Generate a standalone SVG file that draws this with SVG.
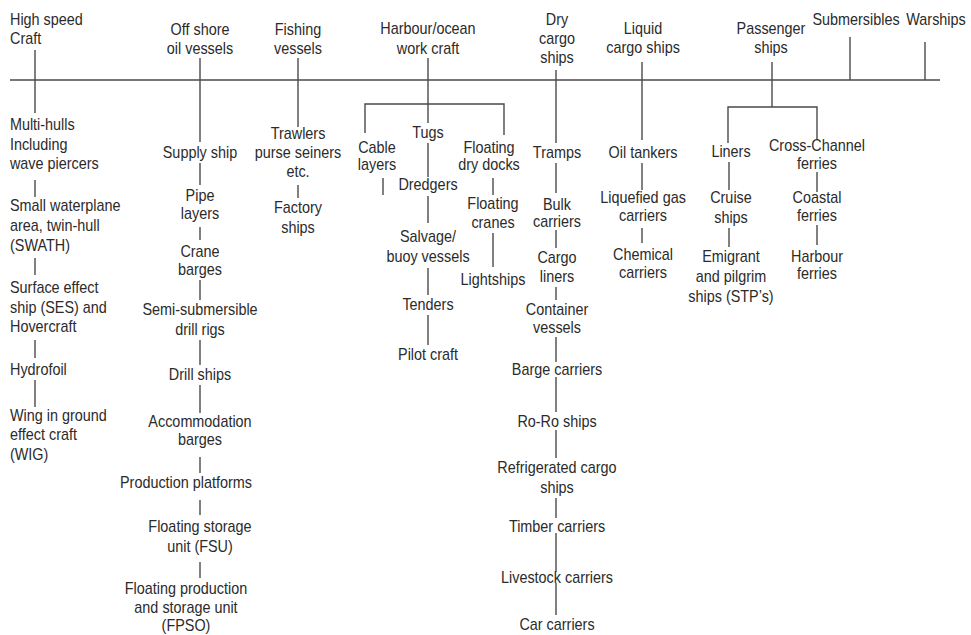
<svg xmlns="http://www.w3.org/2000/svg" width="971" height="635" viewBox="0 0 971 635">
<style>
text{font-family:"Liberation Sans",Arial,sans-serif;font-size:16px;fill:#2b2b2b;transform-box:fill-box;transform:scaleX(.9)}
.c{text-anchor:middle;transform-origin:center}
.l{text-anchor:start;transform-origin:left center}
#connectors line,#connectors path{stroke:#4a4a4a;stroke-width:1.4;fill:none}
</style>
<rect width="971" height="635" fill="#fff"/>
<g id="connectors">
<line x1="10" y1="80" x2="940" y2="80"/>
<line x1="35" y1="50" x2="35" y2="113"/>
<line x1="35" y1="180" x2="35" y2="197"/>
<line x1="35" y1="258" x2="35" y2="275"/>
<line x1="35" y1="340" x2="35" y2="358"/>
<line x1="35" y1="380" x2="35" y2="407"/>
<line x1="200" y1="58" x2="200" y2="142"/>
<line x1="200" y1="163" x2="200" y2="185"/>
<line x1="200" y1="227" x2="200" y2="240"/>
<line x1="200" y1="280" x2="200" y2="300"/>
<line x1="200" y1="340" x2="200" y2="365"/>
<line x1="200" y1="385" x2="200" y2="413"/>
<line x1="200" y1="457" x2="200" y2="473"/>
<line x1="200" y1="500" x2="200" y2="515"/>
<line x1="200" y1="562" x2="200" y2="578"/>
<line x1="298" y1="58" x2="298" y2="127"/>
<line x1="298" y1="185" x2="298" y2="198"/>
<line x1="428" y1="58" x2="428" y2="123"/>
<path d="M365 133V104H504V135"/>
<line x1="428" y1="143" x2="428" y2="177"/>
<line x1="428" y1="196" x2="428" y2="223"/>
<line x1="428" y1="268" x2="428" y2="295"/>
<line x1="428" y1="315" x2="428" y2="345"/>
<line x1="383" y1="178" x2="383" y2="195"/>
<line x1="493" y1="178" x2="493" y2="195"/>
<line x1="493" y1="233" x2="493" y2="267"/>
<line x1="556" y1="70" x2="556" y2="143"/>
<line x1="556" y1="163" x2="556" y2="193"/>
<line x1="556" y1="230" x2="556" y2="248"/>
<line x1="556" y1="287" x2="556" y2="300"/>
<line x1="556" y1="337" x2="556" y2="362"/>
<line x1="556" y1="377" x2="556" y2="412"/>
<line x1="556" y1="430" x2="556" y2="458"/>
<line x1="556" y1="498" x2="556" y2="518"/>
<line x1="556" y1="533" x2="556" y2="572"/>
<line x1="556" y1="583" x2="556" y2="615"/>
<line x1="642" y1="62" x2="642" y2="140"/>
<line x1="642" y1="163" x2="642" y2="190"/>
<line x1="642" y1="228" x2="642" y2="243"/>
<line x1="772" y1="62" x2="772" y2="107"/>
<path d="M728 143V107H817V140"/>
<line x1="729" y1="162" x2="729" y2="190"/>
<line x1="729" y1="228" x2="729" y2="247"/>
<line x1="817" y1="172" x2="817" y2="192"/>
<line x1="817" y1="225" x2="817" y2="245"/>
<line x1="850" y1="37" x2="850" y2="80"/>
<line x1="925" y1="42" x2="925" y2="80"/>
</g>
<g id="high-speed-craft"><text class="l" x="10" y="25"><tspan x="10" y="25">High speed</tspan><tspan x="10" y="44">Craft</tspan></text></g>
<g id="offshore"><text class="c" x="200" y="35"><tspan x="200" y="35">Off shore</tspan><tspan x="200" y="54">oil vessels</tspan></text></g>
<g id="fishing"><text class="c" x="298" y="35"><tspan x="298" y="35">Fishing</tspan><tspan x="298" y="54">vessels</tspan></text></g>
<g id="harbour"><text class="c" x="428" y="34"><tspan x="428" y="34">Harbour/ocean</tspan><tspan x="428" y="54">work craft</tspan></text></g>
<g id="dry-cargo"><text class="c" x="557" y="25"><tspan x="557" y="25">Dry</tspan><tspan x="557" y="44">cargo</tspan><tspan x="557" y="63">ships</tspan></text></g>
<g id="liquid-cargo"><text class="c" x="643" y="34"><tspan x="643" y="34">Liquid</tspan><tspan x="643" y="53">cargo ships</tspan></text></g>
<g id="passenger"><text class="c" x="771" y="34"><tspan x="771" y="34">Passenger</tspan><tspan x="771" y="53">ships</tspan></text></g>
<g id="submersibles"><text class="c" x="856" y="25">Submersibles</text></g>
<g id="warships"><text class="c" x="936" y="25">Warships</text></g>

<g id="multi-hulls"><text class="l" x="10" y="130"><tspan x="10" y="130">Multi-hulls</tspan><tspan x="10" y="150">Including</tspan><tspan x="10" y="169">wave piercers</tspan></text></g>
<g id="swath"><text class="l" x="10" y="211"><tspan x="10" y="211">Small waterplane</tspan><tspan x="10" y="231">area, twin-hull</tspan><tspan x="10" y="251">(SWATH)</tspan></text></g>
<g id="ses"><text class="l" x="10" y="293"><tspan x="10" y="293">Surface effect</tspan><tspan x="10" y="313">ship (SES) and</tspan><tspan x="10" y="332">Hovercraft</tspan></text></g>
<g id="hydrofoil"><text class="l" x="10" y="375">Hydrofoil</text></g>
<g id="wig"><text class="l" x="10" y="421"><tspan x="10" y="421">Wing in ground</tspan><tspan x="10" y="440">effect craft</tspan><tspan x="10" y="460">(WIG)</tspan></text></g>

<g id="supply-ship"><text class="c" x="200" y="158">Supply ship</text></g>
<g id="pipe-layers"><text class="c" x="200" y="201"><tspan x="200" y="201">Pipe</tspan><tspan x="200" y="219">layers</tspan></text></g>
<g id="crane-barges"><text class="c" x="200" y="257"><tspan x="200" y="257">Crane</tspan><tspan x="200" y="275">barges</tspan></text></g>
<g id="semi-sub"><text class="c" x="200" y="315"><tspan x="200" y="315">Semi-submersible</tspan><tspan x="200" y="335">drill rigs</tspan></text></g>
<g id="drill-ships"><text class="c" x="200" y="380">Drill ships</text></g>
<g id="accommodation"><text class="c" x="200" y="427"><tspan x="200" y="427">Accommodation</tspan><tspan x="200" y="445">barges</tspan></text></g>
<g id="production-platforms"><text class="c" x="186" y="488">Production platforms</text></g>
<g id="fsu"><text class="c" x="200" y="532"><tspan x="200" y="532">Floating storage</tspan><tspan x="200" y="552">unit (FSU)</tspan></text></g>
<g id="fpso"><text class="c" x="186" y="594"><tspan x="186" y="594">Floating production</tspan><tspan x="186" y="613">and storage unit</tspan><tspan x="186" y="631">(FPSO)</tspan></text></g>

<g id="trawlers"><text class="c" x="298" y="139"><tspan x="298" y="139">Trawlers</tspan><tspan x="298" y="158">purse seiners</tspan><tspan x="298" y="177">etc.</tspan></text></g>
<g id="factory-ships"><text class="c" x="298" y="213"><tspan x="298" y="213">Factory</tspan><tspan x="298" y="233">ships</tspan></text></g>

<g id="cable-layers"><text class="c" x="377" y="153"><tspan x="377" y="153">Cable</tspan><tspan x="377" y="170">layers</tspan></text></g>
<g id="tugs"><text class="c" x="428" y="138">Tugs</text></g>
<g id="dredgers"><text class="c" x="428" y="190">Dredgers</text></g>
<g id="salvage"><text class="c" x="428" y="242"><tspan x="428" y="242">Salvage/</tspan><tspan x="428" y="262">buoy vessels</tspan></text></g>
<g id="tenders"><text class="c" x="428" y="310">Tenders</text></g>
<g id="pilot-craft"><text class="c" x="428" y="360">Pilot craft</text></g>
<g id="floating-dry-docks"><text class="c" x="489" y="153"><tspan x="489" y="153">Floating</tspan><tspan x="489" y="170">dry docks</tspan></text></g>
<g id="floating-cranes"><text class="c" x="493" y="209"><tspan x="493" y="209">Floating</tspan><tspan x="493" y="228">cranes</tspan></text></g>
<g id="lightships"><text class="c" x="493" y="285">Lightships</text></g>

<g id="tramps"><text class="c" x="557" y="158">Tramps</text></g>
<g id="bulk-carriers"><text class="c" x="557" y="210"><tspan x="557" y="210">Bulk</tspan><tspan x="557" y="227">carriers</tspan></text></g>
<g id="cargo-liners"><text class="c" x="557" y="263"><tspan x="557" y="263">Cargo</tspan><tspan x="557" y="282">liners</tspan></text></g>
<g id="container-vessels"><text class="c" x="557" y="315"><tspan x="557" y="315">Container</tspan><tspan x="557" y="333">vessels</tspan></text></g>
<g id="barge-carriers"><text class="c" x="557" y="375">Barge carriers</text></g>
<g id="ro-ro"><text class="c" x="557" y="427">Ro-Ro ships</text></g>
<g id="refrigerated"><text class="c" x="557" y="473"><tspan x="557" y="473">Refrigerated cargo</tspan><tspan x="557" y="493">ships</tspan></text></g>
<g id="timber"><text class="c" x="557" y="532">Timber carriers</text></g>
<g id="livestock"><text class="c" x="557" y="583">Livestock carriers</text></g>
<g id="car-carriers"><text class="c" x="557" y="630">Car carriers</text></g>

<g id="oil-tankers"><text class="c" x="643" y="158">Oil tankers</text></g>
<g id="liquefied-gas"><text class="c" x="643" y="203"><tspan x="643" y="203">Liquefied gas</tspan><tspan x="643" y="221">carriers</tspan></text></g>
<g id="chemical"><text class="c" x="643" y="260"><tspan x="643" y="260">Chemical</tspan><tspan x="643" y="278">carriers</tspan></text></g>

<g id="liners"><text class="c" x="731" y="157">Liners</text></g>
<g id="cruise"><text class="c" x="731" y="203"><tspan x="731" y="203">Cruise</tspan><tspan x="731" y="223">ships</tspan></text></g>
<g id="emigrant"><text class="c" x="731" y="262"><tspan x="731" y="262">Emigrant</tspan><tspan x="731" y="282">and pilgrim</tspan><tspan x="731" y="302">ships (STP’s)</tspan></text></g>
<g id="cross-channel"><text class="c" x="817" y="151"><tspan x="817" y="151">Cross-Channel</tspan><tspan x="817" y="169">ferries</tspan></text></g>
<g id="coastal"><text class="c" x="817" y="203"><tspan x="817" y="203">Coastal</tspan><tspan x="817" y="221">ferries</tspan></text></g>
<g id="harbour-ferries"><text class="c" x="817" y="262"><tspan x="817" y="262">Harbour</tspan><tspan x="817" y="279">ferries</tspan></text></g>
</svg>
